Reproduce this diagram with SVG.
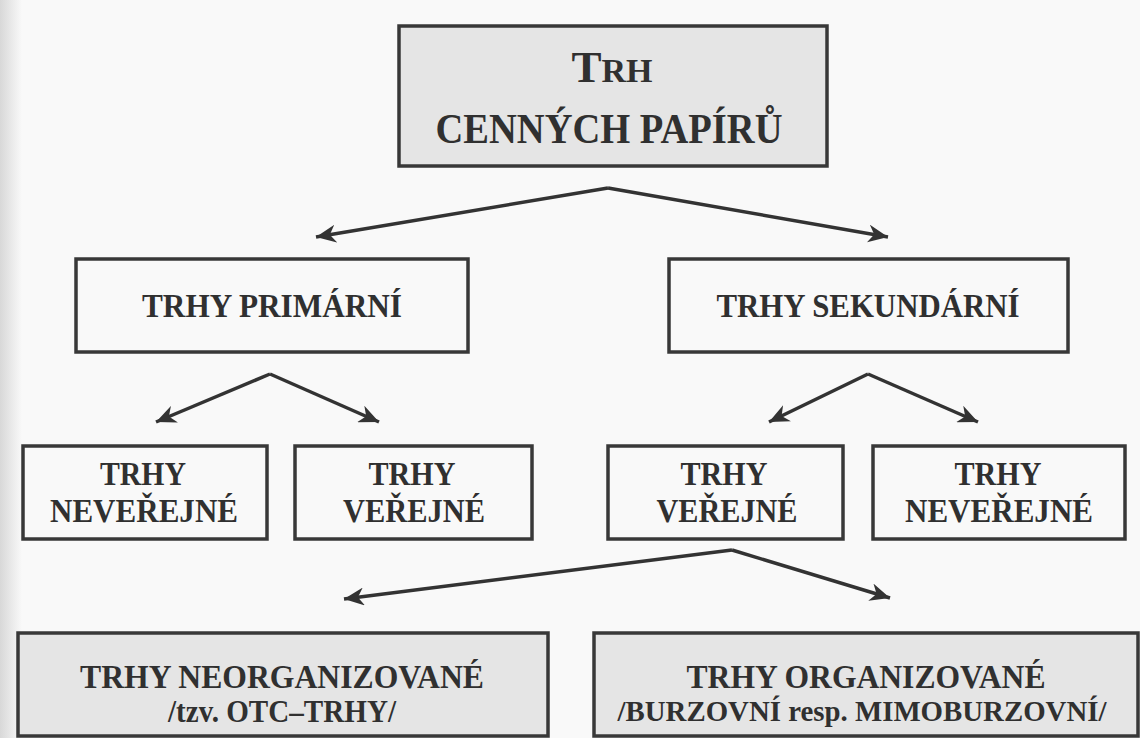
<svg xmlns="http://www.w3.org/2000/svg" width="1140" height="738" viewBox="0 0 1140 738">
<defs>
<linearGradient id="edge" x1="0" y1="0" x2="1" y2="0">
<stop offset="0" stop-color="#d8d8d8"/>
<stop offset="1" stop-color="#f9f9f9"/>
</linearGradient>
<marker id="ah" markerUnits="userSpaceOnUse" markerWidth="22" markerHeight="18" viewBox="0 0 22 18" refX="20" refY="9" orient="auto">
<path d="M0,0 L20,9 L0,18 L6,9 z" fill="#333"/>
</marker>
<style>
.box{fill:#f9f9f9;stroke:#383838;stroke-width:3.5}
.gbox{fill:#e5e5e5;stroke:#383838;stroke-width:3.5}
.t{font-family:"Liberation Serif","Times New Roman",serif;font-weight:bold;fill:#303030;text-anchor:middle}
.conn line{stroke:#333;stroke-width:3.5;marker-end:url(#ah)}
</style>
</defs>
<rect x="0" y="0" width="1140" height="738" fill="#f9f9f9"/>
<rect x="0" y="0" width="22" height="738" fill="url(#edge)"/>

<g id="root">
<rect class="gbox" x="399" y="26" width="428" height="140" stroke-width="4"/>
<text class="t" x="612" y="82"><tspan font-size="45">T</tspan><tspan font-size="34">RH</tspan></text>
<text class="t" x="609" y="143" font-size="42" textLength="347" lengthAdjust="spacingAndGlyphs">CENNÝCH PAPÍRŮ</text>
</g>

<g id="primarni">
<rect class="box" x="76" y="259" width="392" height="93"/>
<text class="t" x="272" y="317" font-size="34" textLength="260" lengthAdjust="spacingAndGlyphs">TRHY PRIMÁRNÍ</text>
</g>

<g id="sekundarni">
<rect class="box" x="669" y="259" width="399" height="93"/>
<text class="t" x="868" y="317" font-size="34" textLength="303" lengthAdjust="spacingAndGlyphs">TRHY SEKUNDÁRNÍ</text>
</g>

<g id="p-neverejne">
<rect class="box" x="23" y="446" width="244" height="93"/>
<text class="t" x="143" y="485" font-size="33" textLength="86" lengthAdjust="spacingAndGlyphs">TRHY</text>
<text class="t" x="144" y="522" font-size="33" textLength="188" lengthAdjust="spacingAndGlyphs">NEVEŘEJNÉ</text>
</g>

<g id="p-verejne">
<rect class="box" x="295" y="446" width="237" height="93"/>
<text class="t" x="412" y="485" font-size="33" textLength="87" lengthAdjust="spacingAndGlyphs">TRHY</text>
<text class="t" x="414" y="522" font-size="33" textLength="142" lengthAdjust="spacingAndGlyphs">VEŘEJNÉ</text>
</g>

<g id="s-verejne">
<rect class="box" x="608" y="446" width="235" height="93"/>
<text class="t" x="724" y="485" font-size="33" textLength="87" lengthAdjust="spacingAndGlyphs">TRHY</text>
<text class="t" x="727" y="522" font-size="33" textLength="141" lengthAdjust="spacingAndGlyphs">VEŘEJNÉ</text>
</g>

<g id="s-neverejne">
<rect class="box" x="873" y="446" width="252" height="93"/>
<text class="t" x="998" y="485" font-size="33" textLength="87" lengthAdjust="spacingAndGlyphs">TRHY</text>
<text class="t" x="999" y="522" font-size="33" textLength="188" lengthAdjust="spacingAndGlyphs">NEVEŘEJNÉ</text>
</g>

<g id="neorganizovane">
<rect class="gbox" x="18" y="633" width="530" height="103"/>
<text class="t" x="282" y="688" font-size="34" textLength="404" lengthAdjust="spacingAndGlyphs">TRHY NEORGANIZOVANÉ</text>
<text class="t" x="282" y="722" font-size="31" textLength="228" lengthAdjust="spacingAndGlyphs">/tzv. OTC–TRHY/</text>
</g>

<g id="organizovane">
<rect class="gbox" x="594" y="633" width="544" height="103"/>
<text class="t" x="866" y="688" font-size="34" textLength="359" lengthAdjust="spacingAndGlyphs">TRHY ORGANIZOVANÉ</text>
<text class="t" x="862" y="721" font-size="30" textLength="489" lengthAdjust="spacingAndGlyphs">/BURZOVNÍ resp. MIMOBURZOVNÍ/</text>
</g>

<g id="connectors" class="conn">
<line x1="608" y1="188" x2="316" y2="237"/>
<line x1="608" y1="188" x2="888" y2="237"/>
<line x1="270" y1="374" x2="156" y2="422"/>
<line x1="270" y1="374" x2="379" y2="422"/>
<line x1="868" y1="374" x2="769" y2="422"/>
<line x1="868" y1="374" x2="978" y2="422"/>
<line x1="732" y1="550" x2="344" y2="599"/>
<line x1="732" y1="550" x2="890" y2="598"/>
</g>
</svg>
